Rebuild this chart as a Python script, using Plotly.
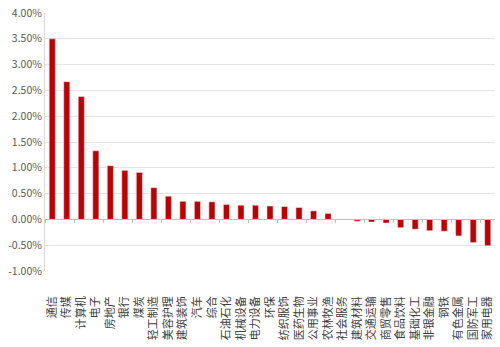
import plotly.graph_objects as go

categories = ["通信", "传媒", "计算机", "电子", "房地产", "银行", "煤炭", "轻工制造", "美容护理",
              "建筑装饰", "汽车", "综合", "石油石化", "机械设备", "电力设备", "环保", "纺织服饰",
              "医药生物", "公用事业", "农林牧渔", "社会服务", "建筑材料", "交通运输", "商贸零售",
              "食品饮料", "基础化工", "非银金融", "钢铁", "有色金属", "国防军工", "家用电器"]
values = [3.50, 2.67, 2.38, 1.33, 1.04, 0.95, 0.91, 0.615, 0.45,
          0.35, 0.35, 0.34, 0.29, 0.275, 0.275, 0.26, 0.25,
          0.23, 0.165, 0.115, 0.0, -0.035, -0.05, -0.07,
          -0.16, -0.19, -0.22, -0.23, -0.32, -0.45, -0.51]
y_ticks = [-1.0, -0.5, 0.0, 0.5, 1.0, 1.5, 2.0, 2.5, 3.0, 3.5, 4.0]
y_range = [-1.0, 4.0]

fig = go.Figure()
fig.add_trace(go.Bar(x=categories, y=values, marker_color="#C00000", width=0.42,
                     hoverinfo="x+y"))
# overlay axis for zero-line tick marks
fig.add_trace(go.Bar(x=categories, y=[None] * len(categories), xaxis="x2", showlegend=False,
                     hoverinfo="skip"))

zero_pos = (0 - y_range[0]) / (y_range[1] - y_range[0])

font = dict(family="Noto Sans CJK SC, Noto Sans, sans-serif", size=10.5, color="#595959")
fig.update_layout(
    width=500, height=347,
    margin=dict(l=45, r=5, t=11, b=76),
    paper_bgcolor="white", plot_bgcolor="white",
    showlegend=False,
    bargap=0.58,
    font=font,
    xaxis=dict(type="category", tickangle=-90, showgrid=False, showline=False,
               ticks="", ticklabelstandoff=22, tickfont=dict(size=11, color="#404040"),
               range=[-0.5, len(categories) - 0.5]),
    xaxis2=dict(type="category", overlaying="x", anchor="free", position=zero_pos,
                side="bottom", showticklabels=False, ticks="outside", ticklen=3,
                tickcolor="#BFBFBF", tickson="boundaries", showgrid=False,
                showline=True, linecolor="#BFBFBF", linewidth=1,
                range=[-0.5, len(categories) - 0.5]),
    yaxis=dict(range=y_range, tickvals=y_ticks,
               ticktext=[f"{v:.2f}%" for v in y_ticks],
               showgrid=True, gridcolor="#E3E3E3", gridwidth=1,
               zeroline=False, showline=True, linecolor="#D9D9D9",
               ticks="", tickfont=dict(size=10.5, color="#595959")),
)

fig.write_html("out.html")
